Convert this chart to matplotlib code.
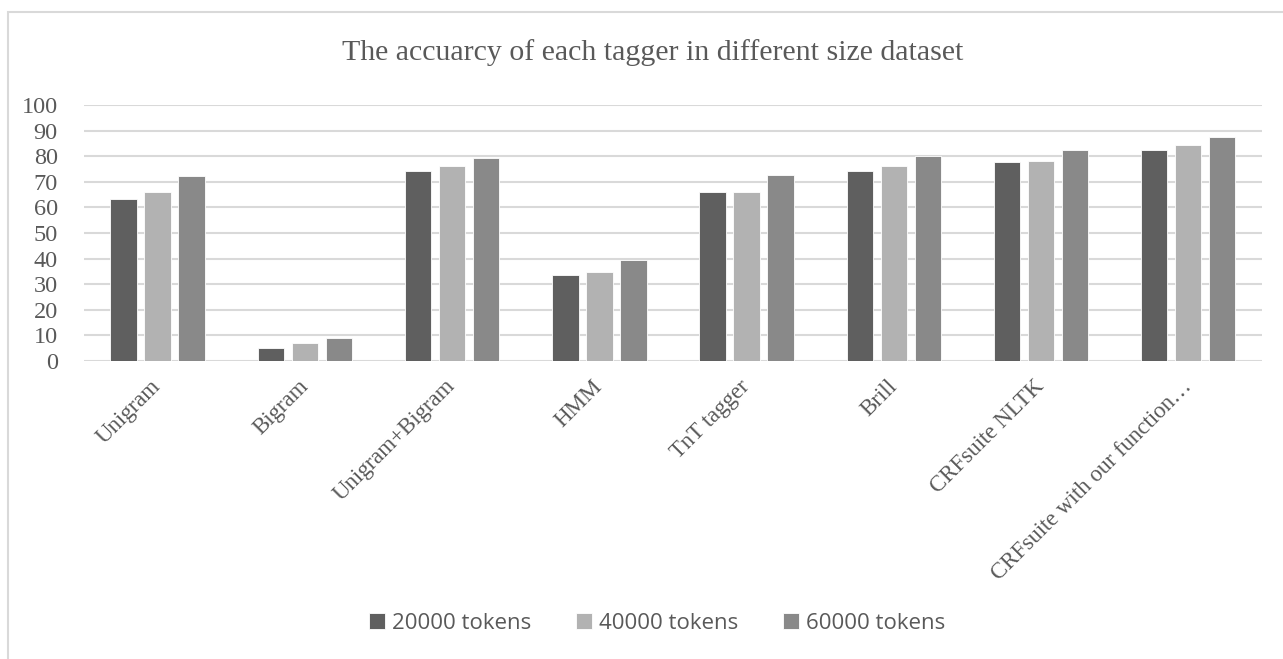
import numpy as np
import matplotlib
matplotlib.use("Agg")
import matplotlib.pyplot as plt
from matplotlib.patches import Rectangle

taggers = ["Unigram", "Bigram", "Unigram+Bigram", "HMM", "TnT tagger",
           "Brill", "CRFsuite NLTK", "CRFsuite with our function\u2026"]
tokens_20k = [63.2, 5.1, 74.4, 33.7, 66.0, 74.4, 77.7, 82.3]
tokens_40k = [66.2, 7.1, 76.0, 34.8, 66.2, 76.2, 78.2, 84.3]
tokens_60k = [72.4, 9.0, 79.2, 39.6, 72.8, 80.2, 82.3, 87.4]
series_names = ["20000 tokens", "40000 tokens", "60000 tokens"]
yticks = list(range(0, 101, 10))

colors = ["#5f5f5f", "#b2b2b2", "#898989"]
text_col = "#595959"
grid_col = "#d9d9d9"

fig = plt.figure(figsize=(12.83, 6.59), dpi=100)
ax = fig.add_axes([0.0655, 0.4522, 0.918, 0.3885])

# outer chart border (runs off the right/bottom of the picture)
fig.patches.append(Rectangle((8 / 1283, -0.1), 1.2, 1 - 12 / 659 + 0.1,
                             transform=fig.transFigure, fill=False,
                             edgecolor=grid_col, lw=1.5))

x = np.arange(len(taggers))
step = 0.231
width = 0.18
for i, vals in enumerate([tokens_20k, tokens_40k, tokens_60k]):
    ax.bar(x + (i - 1) * step, vals, width, color=colors[i],
           edgecolor="white", linewidth=0.6, label=series_names[i], zorder=3)

ax.set_xlim(-0.5, len(taggers) - 0.5)
ax.set_ylim(0, 100)
ax.set_yticks(yticks)
ax.yaxis.grid(True, color=grid_col, lw=1.5, zorder=0)
for s in ax.spines.values():
    s.set_visible(False)
ax.tick_params(length=0)
ax.set_yticklabels([str(v) for v in yticks], family="Liberation Serif",
                   fontsize=17.5, color=text_col)
ax.tick_params(axis="y", pad=19)
ax.set_xticks(x)
ax.set_xticklabels(taggers, rotation=45, ha="right", va="center",
                   rotation_mode="anchor", family="Liberation Serif",
                   fontsize=16.5, color=text_col)
ax.tick_params(axis="x", pad=16)

fig.text(0.509, 0.921, "The accuarcy of each tagger in different size dataset",
         ha="center", va="center", family="Liberation Serif", fontsize=21.5,
         color=text_col)

leg = fig.legend(loc="center", bbox_to_anchor=(0.512, 0.0546), ncol=3,
                 frameon=False, prop={"family": "Open Sans", "size": 16},
                 handlelength=0.75, handleheight=0.75, handletextpad=0.3,
                 columnspacing=2.0)
for t in leg.get_texts():
    t.set_color(text_col)

fig.savefig("out.png", dpi=100)
